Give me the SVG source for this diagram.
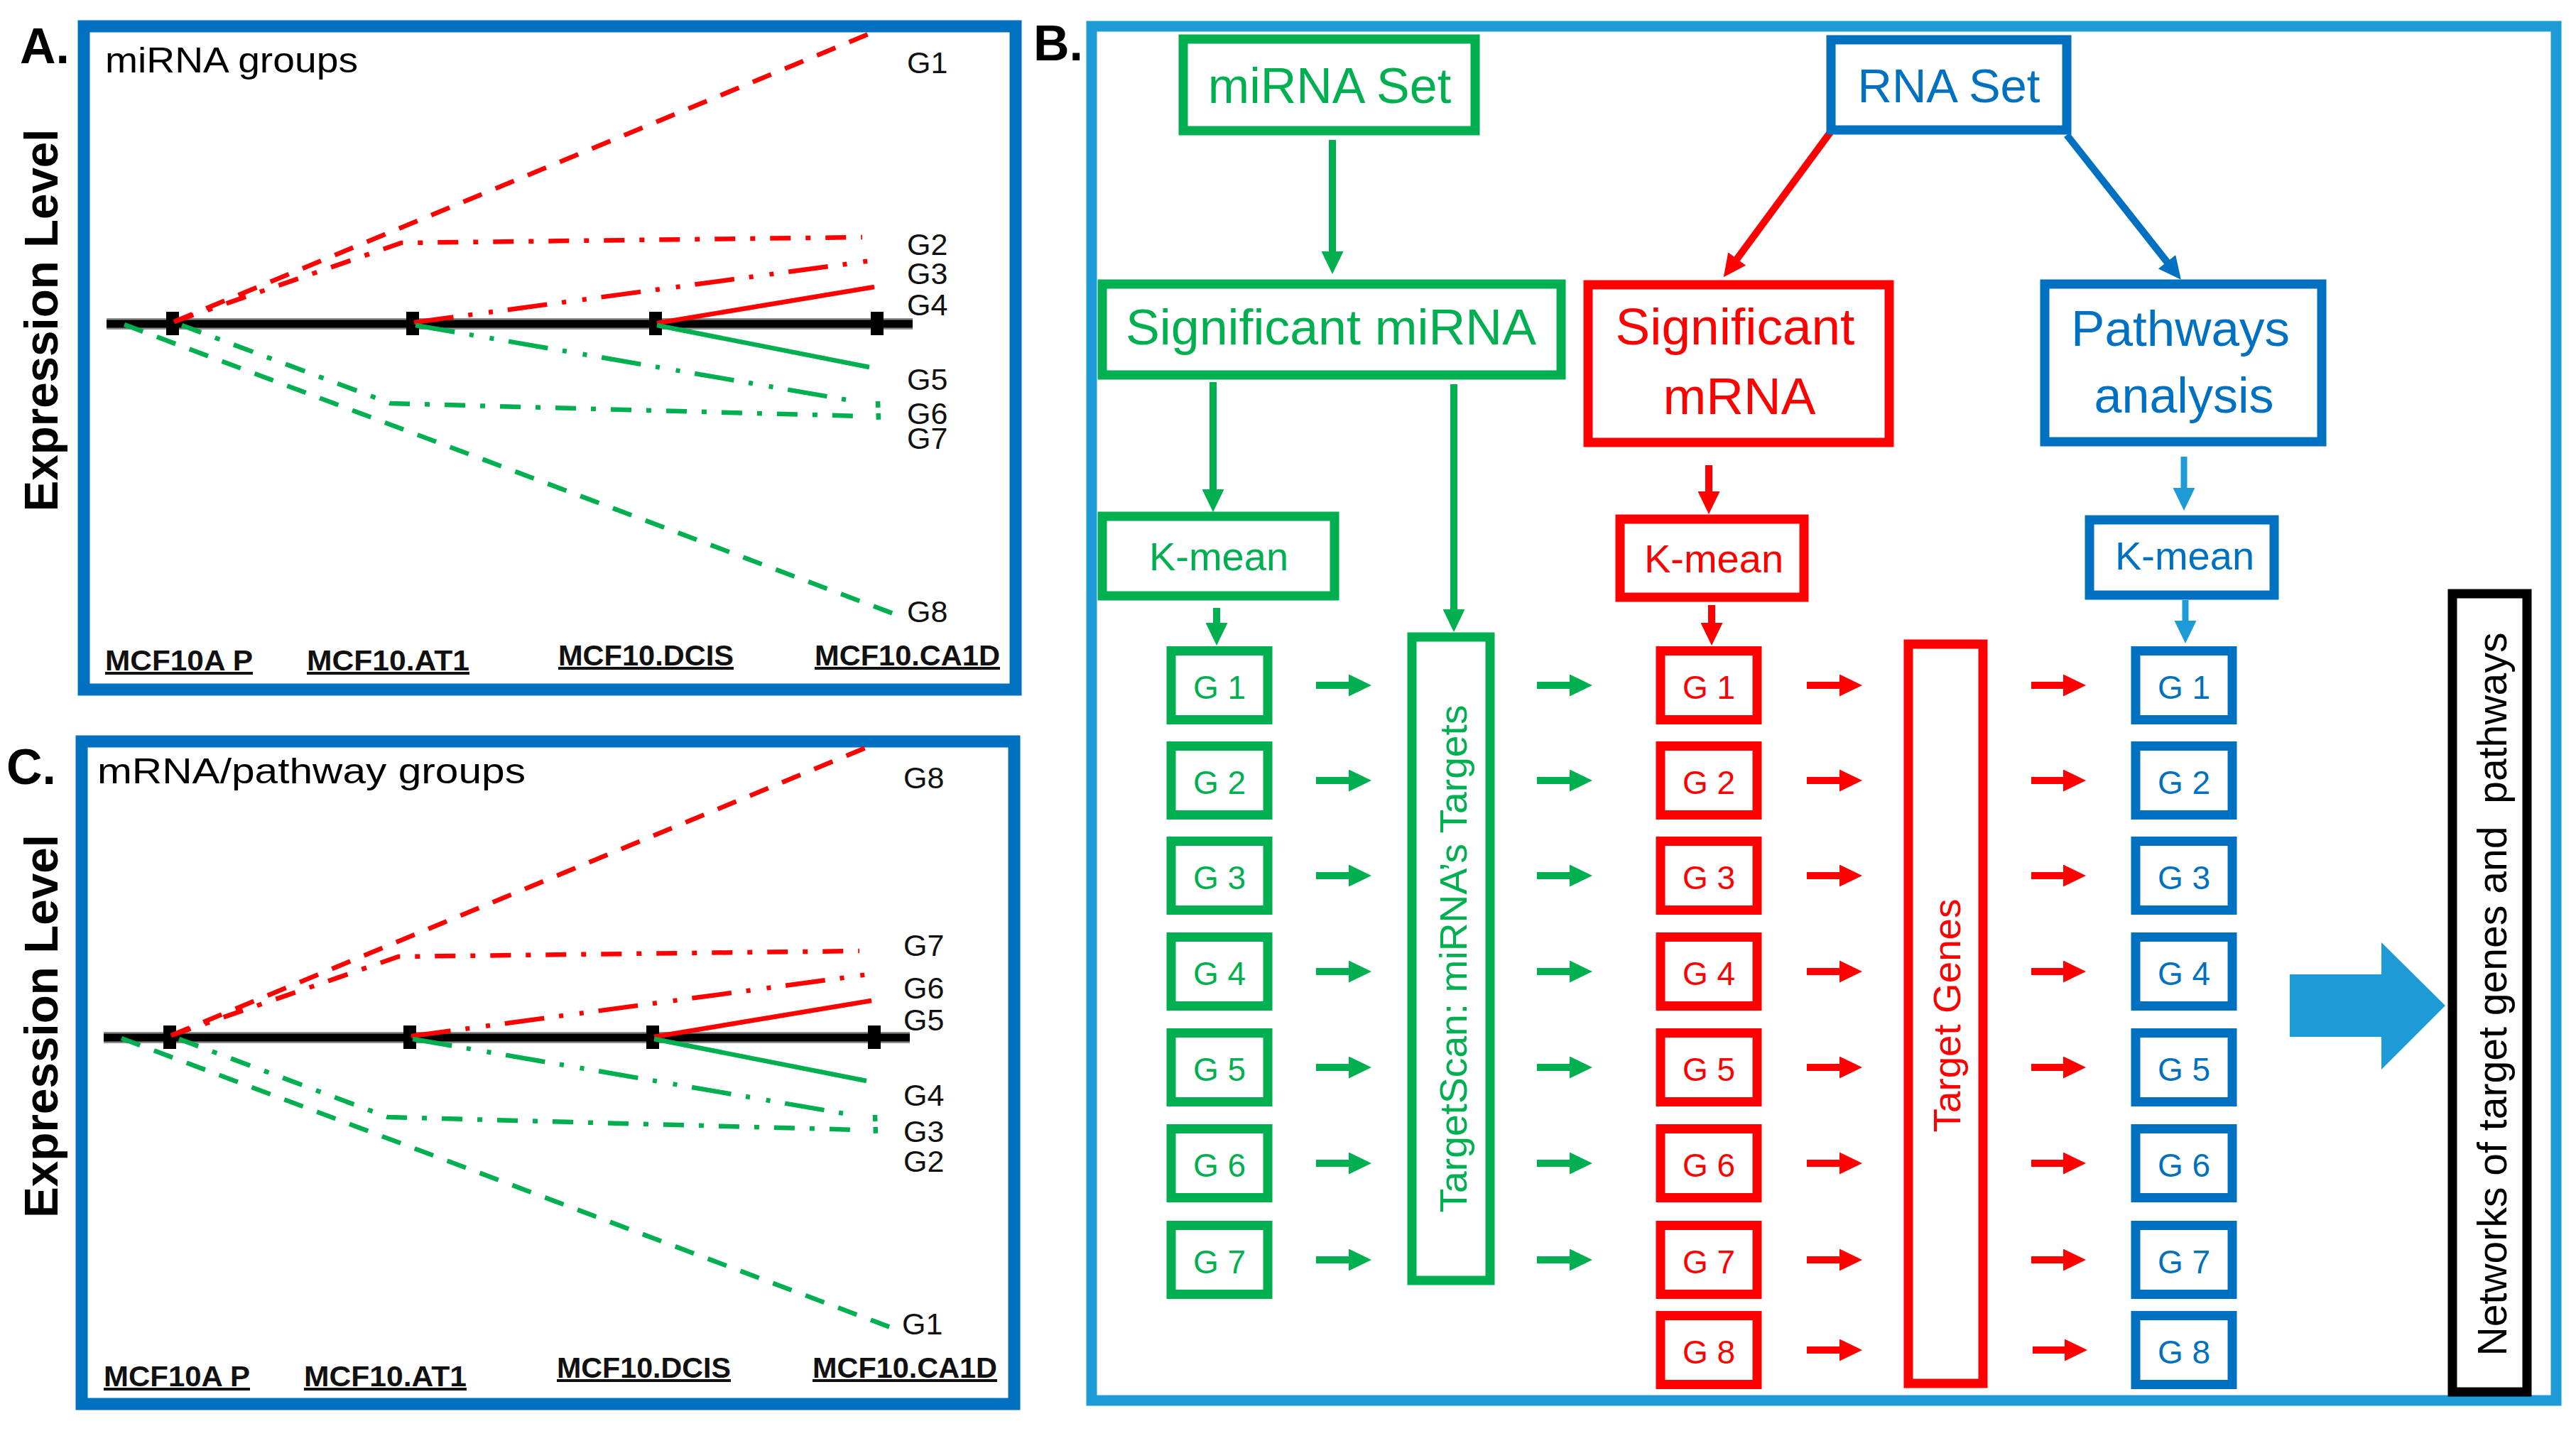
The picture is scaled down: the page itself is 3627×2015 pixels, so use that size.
<svg xmlns="http://www.w3.org/2000/svg" width="3627" height="2015" viewBox="0 0 3627 2015">
<style>
text{font-family:"Liberation Sans",Arial,sans-serif}
.frame{fill:none;stroke:#0070C0;stroke-width:17}
.frameB{fill:none;stroke:#1E9BD7;stroke-width:15}
.bold{font-weight:bold}
.plab{font-size:43px;fill:#111}
.xlab{font-size:40px;font-weight:bold;fill:#111;text-decoration:underline}
.box{fill:#fff;stroke-width:13}
.green{stroke:#00B050}
.red{stroke:#FF0000}
.blue{stroke:#0070C0}
.blk{stroke:#000}
.tg{fill:#00B050}
.tr{fill:#FF0000}
.tb{fill:#0070C0}
.tk{fill:#000}
.gl{font-size:46px;text-anchor:middle}
.mid{text-anchor:middle}
.dash{stroke-dasharray:28 21}
.dd{stroke-dasharray:29 21 7 21}
.ddd{stroke-dasharray:56 21 6 23 6 21}
.cg{stroke:#00B050;stroke-width:10;fill:none}
.cr{stroke:#FF0000;stroke-width:10;fill:none}
.cb{stroke:#0070C0;stroke-width:10;fill:none}
.cl{stroke:#1E9BD7;stroke-width:9;fill:none}
</style>
<defs>
<marker id="mG" viewBox="0 0 32 31" markerWidth="32" markerHeight="31" refX="8" refY="15.5" orient="auto" markerUnits="userSpaceOnUse"><path d="M0,0L32,15.5L0,31z" fill="#00B050"/></marker>
<marker id="mR" viewBox="0 0 32 31" markerWidth="32" markerHeight="31" refX="8" refY="15.5" orient="auto" markerUnits="userSpaceOnUse"><path d="M0,0L32,15.5L0,31z" fill="#FF0000"/></marker>
<marker id="mB" viewBox="0 0 32 31" markerWidth="32" markerHeight="31" refX="8" refY="15.5" orient="auto" markerUnits="userSpaceOnUse"><path d="M0,0L32,15.5L0,31z" fill="#0070C0"/></marker>
<marker id="mL" viewBox="0 0 32 31" markerWidth="32" markerHeight="31" refX="8" refY="15.5" orient="auto" markerUnits="userSpaceOnUse"><path d="M0,0L32,15.5L0,31z" fill="#1E9BD7"/></marker>
</defs>
<rect width="3627" height="2015" fill="#fff"/>

<!-- Panel A -->
<g id="panelA">
<rect class="frame" x="118" y="37" width="1312" height="934"/>
<text class="bold" x="28" y="89" font-size="70">A.</text>
<text x="148" y="102" font-size="50" textLength="356" lengthAdjust="spacingAndGlyphs">miRNA groups</text>
<text class="bold mid" transform="translate(81,451) rotate(-90)" font-size="66" textLength="539" lengthAdjust="spacingAndGlyphs">Expression Level</text>
<g id="plotA" fill="none" stroke-width="6.5">
<line x1="150" y1="456" x2="1285" y2="456" stroke="#8c8c8c" stroke-width="16"/>
<line x1="150" y1="456" x2="1285" y2="456" stroke="#000" stroke-width="11"/>
<rect x="234" y="439" width="18" height="33" fill="#000" stroke="none"/>
<rect x="572" y="439" width="18" height="33" fill="#000" stroke="none"/>
<rect x="914" y="439" width="18" height="33" fill="#000" stroke="none"/>
<rect x="1226" y="439" width="18" height="33" fill="#000" stroke="none"/>
<path class="red dash" d="M245,453L1230,45"/>
<path class="red dd" d="M245,453L565,342L1214,334"/>
<path class="red ddd" d="M583,454L1227,367"/>
<path class="red" d="M925,455L1231,404"/>
<path class="green" d="M925,458L1224,517"/>
<path class="green ddd" d="M585,458L1210,566"/>
<path class="green dd" d="M256,458L550,568L1214,586"/>
<path class="green" stroke-dasharray="9 8" d="M1236,565L1237,592"/>
<path class="green dash" d="M175,457L1271,869"/>
</g>
<g class="plab">
<text x="1277" y="103">G1</text>
<text x="1277" y="359">G2</text>
<text x="1277" y="400">G3</text>
<text x="1277" y="444">G4</text>
<text x="1277" y="549">G5</text>
<text x="1277" y="597">G6</text>
<text x="1277" y="632">G7</text>
<text x="1277" y="876">G8</text>
</g>
<text class="xlab" x="148" y="944" textLength="208" lengthAdjust="spacingAndGlyphs">MCF10A P</text>
<text class="xlab" x="432" y="944" textLength="229" lengthAdjust="spacingAndGlyphs">MCF10.AT1</text>
<text class="xlab" x="786" y="937" textLength="247" lengthAdjust="spacingAndGlyphs">MCF10.DCIS</text>
<text class="xlab" x="1147" y="937" textLength="261" lengthAdjust="spacingAndGlyphs">MCF10.CA1D</text>
</g>

<!-- Panel C -->
<g id="panelC">
<rect class="frame" x="115" y="1044" width="1313" height="933"/>
<text class="bold" x="9" y="1104" font-size="70">C.</text>
<text x="137" y="1103" font-size="50" textLength="603" lengthAdjust="spacingAndGlyphs">mRNA/pathway groups</text>
<text class="bold mid" transform="translate(81,1445) rotate(-90)" font-size="66" textLength="540" lengthAdjust="spacingAndGlyphs">Expression Level</text>
<use href="#plotA" transform="translate(-4,1005)"/>
<g class="plab">
<text x="1272" y="1110">G8</text>
<text x="1272" y="1346">G7</text>
<text x="1272" y="1406">G6</text>
<text x="1272" y="1451">G5</text>
<text x="1272" y="1557">G4</text>
<text x="1272" y="1608">G3</text>
<text x="1272" y="1650">G2</text>
<text x="1270" y="1879">G1</text>
</g>
<text class="xlab" x="146" y="1952" textLength="206" lengthAdjust="spacingAndGlyphs">MCF10A P</text>
<text class="xlab" x="428" y="1952" textLength="229" lengthAdjust="spacingAndGlyphs">MCF10.AT1</text>
<text class="xlab" x="784" y="1940" textLength="245" lengthAdjust="spacingAndGlyphs">MCF10.DCIS</text>
<text class="xlab" x="1144" y="1940" textLength="260" lengthAdjust="spacingAndGlyphs">MCF10.CA1D</text>
</g>

<!-- Panel B -->
<g id="panelB">
<rect class="frameB" x="1537" y="37" width="2062" height="1935"/>
<text class="bold" x="1455" y="85" font-size="70">B.</text>
</g>

<g id="connectors">
<line class="cg" x1="1876" y1="197" x2="1876" y2="362" marker-end="url(#mG)"/>
<line class="cg" x1="1708" y1="538" x2="1708" y2="697" marker-end="url(#mG)"/>
<line class="cg" x1="2047" y1="541" x2="2047" y2="866" marker-end="url(#mG)"/>
<line class="cg" x1="1713" y1="856" x2="1713" y2="885" marker-end="url(#mG)"/>
<line class="cr" x1="2578" y1="185" x2="2441" y2="371" marker-end="url(#mR)"/>
<line class="cr" x1="2406" y1="655" x2="2406" y2="700" marker-end="url(#mR)"/>
<line class="cr" x1="2410" y1="852" x2="2410" y2="885" marker-end="url(#mR)"/>
<line class="cb" x1="2910" y1="190" x2="3056" y2="375" marker-end="url(#mB)"/>
<line class="cl" x1="3075" y1="643" x2="3075" y2="695" marker-end="url(#mL)"/>
<line class="cl" x1="3077" y1="845" x2="3077" y2="882" marker-end="url(#mL)"/>
<g id="rowGreen1">
<line class="cg" x1="1853" y1="965" x2="1907" y2="965" marker-end="url(#mG)"/>
<line class="cg" x1="1853" y1="1099" x2="1907" y2="1099" marker-end="url(#mG)"/>
<line class="cg" x1="1853" y1="1233" x2="1907" y2="1233" marker-end="url(#mG)"/>
<line class="cg" x1="1853" y1="1368" x2="1907" y2="1368" marker-end="url(#mG)"/>
<line class="cg" x1="1853" y1="1503" x2="1907" y2="1503" marker-end="url(#mG)"/>
<line class="cg" x1="1853" y1="1638" x2="1907" y2="1638" marker-end="url(#mG)"/>
<line class="cg" x1="1853" y1="1774" x2="1907" y2="1774" marker-end="url(#mG)"/>
</g>
<g id="rowGreen2">
<line class="cg" x1="2164" y1="965" x2="2218" y2="965" marker-end="url(#mG)"/>
<line class="cg" x1="2164" y1="1099" x2="2218" y2="1099" marker-end="url(#mG)"/>
<line class="cg" x1="2164" y1="1233" x2="2218" y2="1233" marker-end="url(#mG)"/>
<line class="cg" x1="2164" y1="1368" x2="2218" y2="1368" marker-end="url(#mG)"/>
<line class="cg" x1="2164" y1="1503" x2="2218" y2="1503" marker-end="url(#mG)"/>
<line class="cg" x1="2164" y1="1638" x2="2218" y2="1638" marker-end="url(#mG)"/>
<line class="cg" x1="2164" y1="1774" x2="2218" y2="1774" marker-end="url(#mG)"/>
</g>
<g id="rowRed1">
<line class="cr" x1="2544" y1="965" x2="2598" y2="965" marker-end="url(#mR)"/>
<line class="cr" x1="2544" y1="1099" x2="2598" y2="1099" marker-end="url(#mR)"/>
<line class="cr" x1="2544" y1="1233" x2="2598" y2="1233" marker-end="url(#mR)"/>
<line class="cr" x1="2544" y1="1368" x2="2598" y2="1368" marker-end="url(#mR)"/>
<line class="cr" x1="2544" y1="1503" x2="2598" y2="1503" marker-end="url(#mR)"/>
<line class="cr" x1="2544" y1="1638" x2="2598" y2="1638" marker-end="url(#mR)"/>
<line class="cr" x1="2544" y1="1774" x2="2598" y2="1774" marker-end="url(#mR)"/>
<line class="cr" x1="2544" y1="1901" x2="2598" y2="1901" marker-end="url(#mR)"/>
</g>
<g id="rowRed2">
<line class="cr" x1="2860" y1="965" x2="2913" y2="965" marker-end="url(#mR)"/>
<line class="cr" x1="2860" y1="1099" x2="2913" y2="1099" marker-end="url(#mR)"/>
<line class="cr" x1="2860" y1="1233" x2="2913" y2="1233" marker-end="url(#mR)"/>
<line class="cr" x1="2860" y1="1368" x2="2913" y2="1368" marker-end="url(#mR)"/>
<line class="cr" x1="2860" y1="1503" x2="2913" y2="1503" marker-end="url(#mR)"/>
<line class="cr" x1="2860" y1="1638" x2="2913" y2="1638" marker-end="url(#mR)"/>
<line class="cr" x1="2860" y1="1774" x2="2913" y2="1774" marker-end="url(#mR)"/>
<line class="cr" x1="2862" y1="1901" x2="2915" y2="1901" marker-end="url(#mR)"/>
</g>
<polygon id="bigArrow" points="3224,1372 3353,1372 3353,1327 3443,1416 3353,1506 3353,1460 3224,1460" fill="#1E9BD7"/>
</g>

<g id="miRNASet"><rect class="box green" x="1666" y="55" width="411" height="129" stroke-width="12"/><text class="tg mid" x="1872" y="145" font-size="70">miRNA Set</text></g>
<g id="sigMiRNA"><rect class="box green" x="1552" y="400" width="646" height="128" stroke-width="12"/><text class="tg mid" x="1874" y="485" font-size="71" textLength="578" lengthAdjust="spacingAndGlyphs">Significant miRNA</text></g>
<g id="kmeanGreen"><rect class="box green" x="1552" y="727" width="327" height="112" stroke-width="12"/><text class="tg mid" x="1716" y="803" font-size="56">K-mean</text></g>
<g id="targetScan"><rect class="box green" x="1988" y="897" width="110" height="906" stroke-width="12"/><text class="tg mid" transform="translate(2065,1350) rotate(-90)" font-size="54" textLength="715" lengthAdjust="spacingAndGlyphs">TargetScan: miRNA’s Targets</text></g>
<g id="rnaSet"><rect class="box blue" x="2578" y="56" width="332" height="127" stroke-width="14"/><text class="tb mid" x="2744" y="144" font-size="67">RNA Set</text></g>
<g id="sigMRNA"><rect class="box red" x="2236" y="401" width="424" height="222" stroke-width="14"/><text class="tr mid" x="2443" y="485" font-size="73">Significant</text><text class="tr mid" x="2449" y="583" font-size="73">mRNA</text></g>
<g id="kmeanRed"><rect class="box red" x="2281" y="731" width="259" height="110" stroke-width="14"/><text class="tr mid" x="2413" y="806" font-size="56">K-mean</text></g>
<g id="pathways"><rect class="box blue" x="2879" y="400" width="390" height="222" stroke-width="14"/><text class="tb mid" x="3070" y="487" font-size="71">Pathways</text><text class="tb mid" x="3075" y="581" font-size="70">analysis</text></g>
<g id="kmeanBlue"><rect class="box blue" x="2942" y="732" width="260" height="106" stroke-width="14"/><text class="tb mid" x="3076" y="802" font-size="56">K-mean</text></g>
<g id="targetGenes"><rect class="box red" x="2687" y="907" width="105" height="1041"/><text class="tr mid" transform="translate(2760,1430) rotate(-90)" font-size="54" textLength="329" lengthAdjust="spacingAndGlyphs">Target Genes</text></g>
<g id="networks"><rect class="box blk" x="3453" y="836" width="105" height="1124" stroke-width="14"/><text class="tk mid" transform="translate(3529,1400) rotate(-90)" font-size="57" textLength="1019" lengthAdjust="spacingAndGlyphs" xml:space="preserve">Networks of target genes and  pathways</text></g>

<g id="greenG1"><rect class="box green" x="1649" y="916.5" width="136" height="97"/><text class="tg gl" x="1717" y="984">G 1</text></g>
<g id="greenG2"><rect class="box green" x="1649" y="1050.5" width="136" height="97"/><text class="tg gl" x="1717" y="1118">G 2</text></g>
<g id="greenG3"><rect class="box green" x="1649" y="1184.5" width="136" height="97"/><text class="tg gl" x="1717" y="1252">G 3</text></g>
<g id="greenG4"><rect class="box green" x="1649" y="1319.5" width="136" height="97"/><text class="tg gl" x="1717" y="1387">G 4</text></g>
<g id="greenG5"><rect class="box green" x="1649" y="1454.5" width="136" height="97"/><text class="tg gl" x="1717" y="1522">G 5</text></g>
<g id="greenG6"><rect class="box green" x="1649" y="1589.5" width="136" height="97"/><text class="tg gl" x="1717" y="1657">G 6</text></g>
<g id="greenG7"><rect class="box green" x="1649" y="1725.5" width="136" height="97"/><text class="tg gl" x="1717" y="1793">G 7</text></g>

<g id="redG1"><rect class="box red" x="2338" y="916.5" width="136" height="97"/><text class="tr gl" x="2406" y="984">G 1</text></g>
<g id="redG2"><rect class="box red" x="2338" y="1050.5" width="136" height="97"/><text class="tr gl" x="2406" y="1118">G 2</text></g>
<g id="redG3"><rect class="box red" x="2338" y="1184.5" width="136" height="97"/><text class="tr gl" x="2406" y="1252">G 3</text></g>
<g id="redG4"><rect class="box red" x="2338" y="1319.5" width="136" height="97"/><text class="tr gl" x="2406" y="1387">G 4</text></g>
<g id="redG5"><rect class="box red" x="2338" y="1454.5" width="136" height="97"/><text class="tr gl" x="2406" y="1522">G 5</text></g>
<g id="redG6"><rect class="box red" x="2338" y="1589.5" width="136" height="97"/><text class="tr gl" x="2406" y="1657">G 6</text></g>
<g id="redG7"><rect class="box red" x="2338" y="1725.5" width="136" height="97"/><text class="tr gl" x="2406" y="1793">G 7</text></g>
<g id="redG8"><rect class="box red" x="2338" y="1852.5" width="136" height="97"/><text class="tr gl" x="2406" y="1920">G 8</text></g>

<g id="blueG1"><rect class="box blue" x="3007" y="916.5" width="136" height="97"/><text class="tb gl" x="3075" y="984">G 1</text></g>
<g id="blueG2"><rect class="box blue" x="3007" y="1050.5" width="136" height="97"/><text class="tb gl" x="3075" y="1118">G 2</text></g>
<g id="blueG3"><rect class="box blue" x="3007" y="1184.5" width="136" height="97"/><text class="tb gl" x="3075" y="1252">G 3</text></g>
<g id="blueG4"><rect class="box blue" x="3007" y="1319.5" width="136" height="97"/><text class="tb gl" x="3075" y="1387">G 4</text></g>
<g id="blueG5"><rect class="box blue" x="3007" y="1454.5" width="136" height="97"/><text class="tb gl" x="3075" y="1522">G 5</text></g>
<g id="blueG6"><rect class="box blue" x="3007" y="1589.5" width="136" height="97"/><text class="tb gl" x="3075" y="1657">G 6</text></g>
<g id="blueG7"><rect class="box blue" x="3007" y="1725.5" width="136" height="97"/><text class="tb gl" x="3075" y="1793">G 7</text></g>
<g id="blueG8"><rect class="box blue" x="3007" y="1852.5" width="136" height="97"/><text class="tb gl" x="3075" y="1920">G 8</text></g>
</svg>
